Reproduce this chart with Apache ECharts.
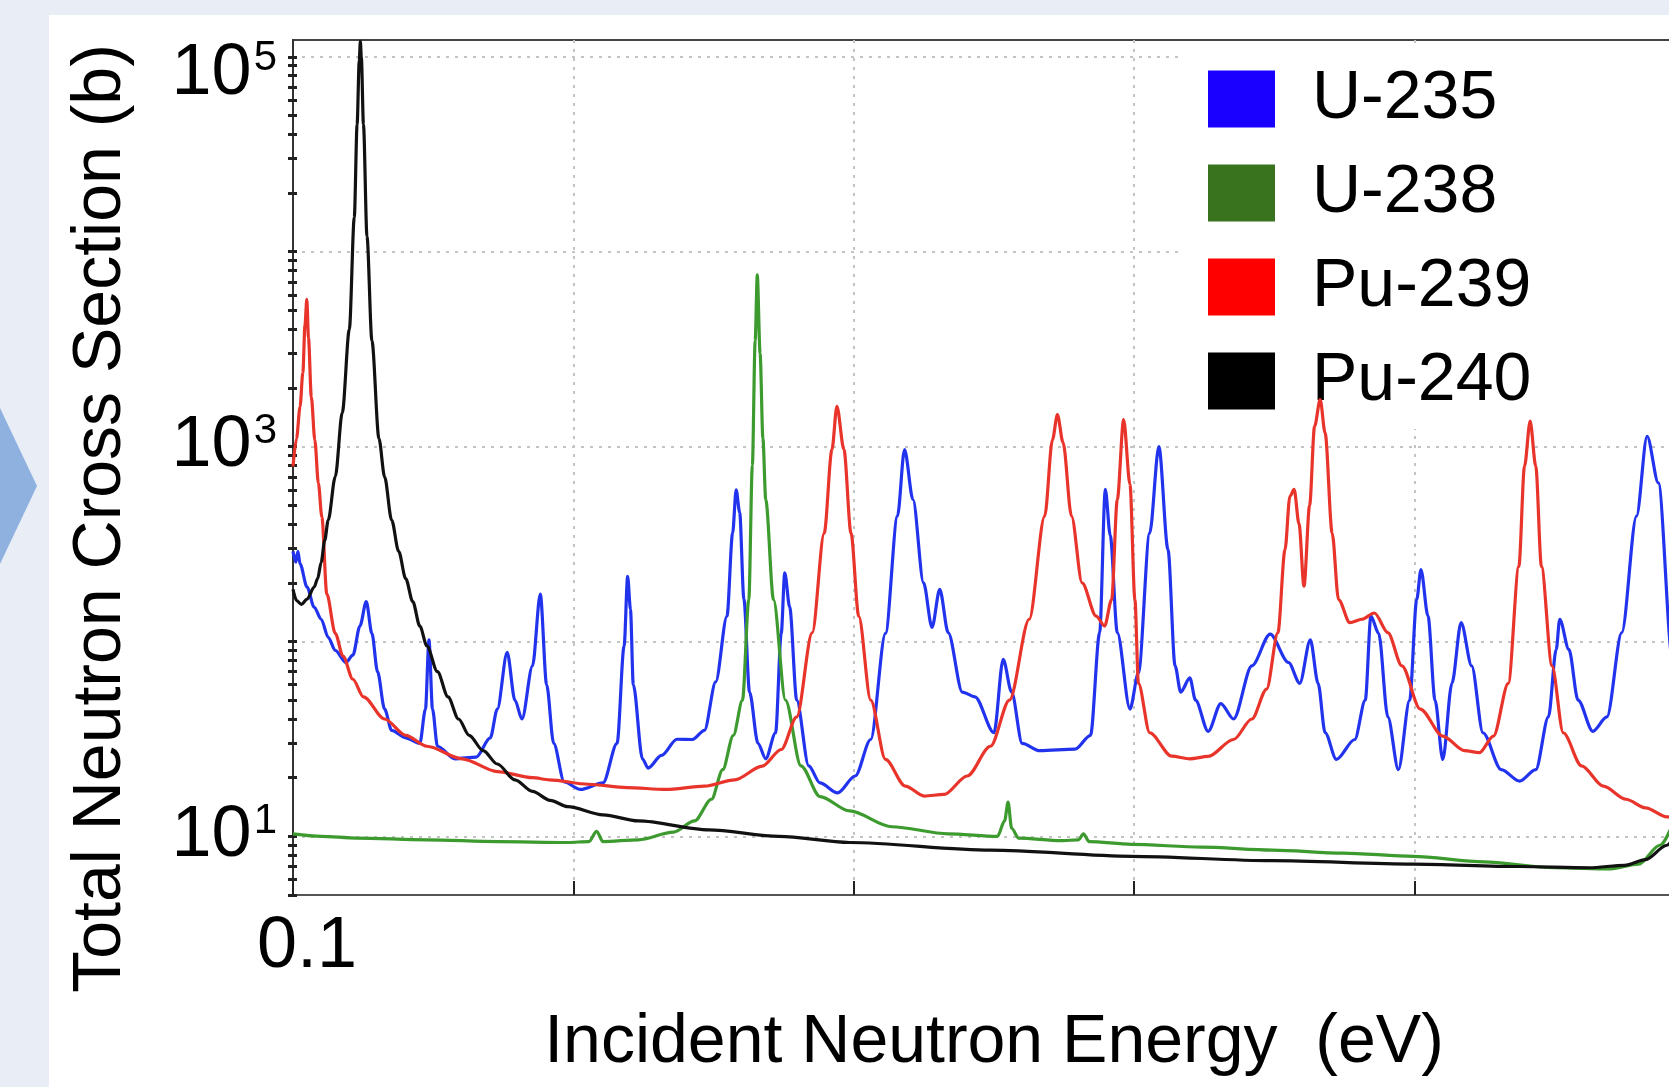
<!DOCTYPE html>
<html>
<head>
<meta charset="utf-8">
<title>Total Neutron Cross Section</title>
<script src="https://cdn.jsdelivr.net/npm/echarts@6/dist/echarts.min.js"></script>
<style>
html, body { margin: 0; padding: 0; overflow: hidden; background: #e9eef6; }
#chart { width: 1760px; height: 1087px; }
</style>
</head>
<body>
<div id="chart"></div>
<script>
const FONT = '"Liberation Sans", Arial, Helvetica, sans-serif'

// energy (eV) / total cross section (b)
const u235E = [0.1, 0.14, 0.17, 0.2, 0.3, 0.4, 0.5, 0.6, 0.7, 0.85, 0.95, 1.05, 1.14, 1.22, 1.3, 1.4, 1.5, 1.7, 1.9, 1.98, 2.03, 2.08, 2.15, 2.4, 2.7, 2.9, 3.0, 3.14, 3.25, 3.35, 3.5, 3.61, 3.7, 3.8, 3.95, 4.18, 4.5, 4.7, 4.8, 4.85, 4.89, 4.93, 5.06, 5.14, 5.33, 5.55, 5.77, 5.94, 6.1, 6.26, 6.34, 6.39, 6.44, 6.5, 6.58, 6.7, 6.81, 6.95, 7.03, 7.08, 7.15, 7.25, 7.42, 7.58, 7.83, 8.08, 8.3, 8.51, 8.68, 8.78, 8.9, 9.05, 9.17, 9.28, 9.4, 9.6, 9.78, 10.05, 10.18, 10.3, 10.45, 10.7, 11.2, 11.42, 11.55, 11.63, 11.7, 11.8, 11.98, 12.1, 12.26, 12.39, 12.52, 12.62, 12.7, 12.83, 12.91, 13.09, 13.27, 13.45, 13.71, 13.97, 14.23, 14.39, 14.54, 14.65, 14.75, 14.91, 15.17, 15.32, 15.4, 15.51, 15.64, 15.79, 15.95, 16.05, 16.11, 16.21, 16.31, 16.42, 16.55, 16.68, 16.83, 16.99, 17.25, 17.51, 17.74, 17.92, 18.03, 18.08, 18.21, 18.34, 18.55, 18.75, 18.96, 19.17, 19.32, 19.48, 19.68, 19.85, 20]
const u235S = [290, 255, 290, 250, 190, 150, 130, 105, 90, 78, 85, 120, 160, 110, 70, 45, 35, 32, 30, 45, 102, 45, 29, 25, 25.5, 32, 45, 88, 50, 40, 75, 175, 60, 30, 19, 17.4, 18.8, 30, 95, 216, 146, 60, 25, 22.4, 26, 31.5, 31.4, 35, 62, 135, 360, 600, 460, 165, 55, 30, 25, 34, 110, 225, 150, 50, 23, 18.8, 16.7, 20.4, 31.4, 110, 440, 966, 535, 200, 118, 185, 111, 55, 52, 34, 81, 55, 30, 27.5, 28, 33, 111, 603, 350, 111, 45, 69, 360, 1000, 296, 75, 55, 65, 50, 34.6, 48, 40, 75, 109, 78, 61, 102, 61, 34, 24.8, 31.4, 50, 135, 110, 41, 22, 50, 164, 234, 135, 50, 24.8, 61, 125, 75, 34, 22, 19.2, 22, 41, 91, 130, 91, 50, 34.6, 41, 111, 440, 1130, 651, 81, 35, 30]

const u238E = [0.1, 0.5, 1.0, 2.0, 3.0, 4.0, 4.3, 4.41, 4.5, 5.0, 5.5, 5.8, 6.04, 6.2, 6.35, 6.48, 6.57, 6.62, 6.66, 6.69, 6.73, 6.77, 6.81, 6.92, 7.09, 7.31, 7.58, 8.0, 8.6, 9.4, 10.1, 10.2, 10.25, 10.3, 10.4, 11.0, 11.25, 11.32, 11.4, 12, 13, 14, 15, 16, 17, 18, 18.8, 19.2, 19.5, 19.8, 20]
const u238S = [10.3, 10.0, 9.8, 9.6, 9.4, 9.3, 9.4, 10.6, 9.4, 9.6, 10.5, 12, 15.5, 22, 33, 50, 164, 800, 3500, 7600, 3000, 1100, 535, 164, 50, 23, 16, 13.5, 11.2, 10.3, 10.0, 12, 15, 11, 9.8, 9.5, 9.6, 10.3, 9.4, 9.1, 8.8, 8.5, 8.2, 7.9, 7.4, 6.9, 6.8, 7.2, 9, 13, 18]

const pu239E = [0.1, 0.15, 0.2, 0.24, 0.27, 0.296, 0.32, 0.36, 0.41, 0.46, 0.51, 0.58, 0.7, 0.81, 0.95, 1.1, 1.4, 1.7, 2.0, 2.5, 3.0, 3.5, 3.74, 4.29, 4.84, 5.39, 5.94, 6.37, 6.76, 7.03, 7.25, 7.47, 7.64, 7.75, 7.82, 7.92, 8.02, 8.13, 8.3, 8.51, 8.79, 9.06, 9.34, 9.67, 10.0, 10.27, 10.55, 10.77, 10.88, 10.95, 11.03, 11.15, 11.3, 11.5, 11.62, 11.72, 11.8, 11.89, 11.98, 12.05, 12.1, 12.26, 12.57, 12.83, 13.09, 13.45, 13.71, 13.92, 14.08, 14.18, 14.25, 14.31, 14.38, 14.45, 14.53, 14.6, 14.68, 14.75, 14.85, 14.94, 15.1, 15.27, 15.45, 15.64, 15.84, 16.1, 16.42, 16.73, 16.94, 17.14, 17.35, 17.5, 17.58, 17.66, 17.74, 17.82, 17.97, 18.13, 18.39, 18.7, 19.02, 19.3, 19.6, 20]
const pu239S = [790, 1100, 1600, 2400, 4200, 5700, 3600, 1800, 1080, 650, 435, 175, 110, 84, 64, 52, 40, 33, 29, 25, 21.5, 20, 19.5, 18.5, 17.8, 17.4, 18.1, 19.5, 22.9, 27.9, 41, 111, 360, 966, 1610, 966, 360, 135, 50, 24.8, 18.1, 16.1, 16.4, 20.4, 29, 50, 130, 440, 1086, 1460, 1050, 440, 200, 135, 120, 164, 535, 1375, 640, 164, 61, 34, 25.8, 25, 25.7, 31.4, 40, 57, 111, 295, 556, 603, 400, 192, 500, 1270, 1740, 1175, 360, 164, 125, 130, 140, 111, 75, 45, 32.7, 27.5, 26.9, 32.7, 61, 243, 792, 1350, 792, 243, 75, 34, 23, 18.1, 15.5, 14, 12.6, 12]

const pu240E = [0.1, 0.15, 0.22, 0.3, 0.4, 0.45, 0.5, 0.55, 0.6, 0.7, 0.8, 0.9, 0.97, 1.01, 1.04, 1.056, 1.07, 1.1, 1.15, 1.22, 1.32, 1.4, 1.5, 1.6, 1.7, 1.8, 1.9, 2.0, 2.15, 2.3, 2.45, 2.6, 2.8, 3.0, 3.25, 3.5, 3.75, 4.0, 4.5, 5.0, 6.0, 7.0, 8.0, 10, 12, 14, 16, 17.5, 18.5, 19.0, 19.3, 19.6, 19.8, 20]
const pu240S = [185, 162, 155, 165, 190, 210, 255, 330, 420, 700, 1500, 4000, 15000, 45000, 95000, 120000, 100000, 45000, 12000, 3500, 1100, 700, 420, 290, 210, 160, 120, 95, 70, 52, 40, 33, 27.5, 23.5, 19.5, 17, 15.3, 14.2, 12.9, 12, 10.8, 10, 9.3, 8.5, 7.9, 7.5, 7.2, 7.0, 6.9, 7.1, 7.6, 9, 11, 14]

const seriesNames = ['U-235', 'U-238', 'Pu-239', 'Pu-240']
const lineColors = ['#2233ee', '#3c9a2e', '#e8342a', '#111111']
const legendColors = ['#1a00ff', '#3a731e', '#ff0000', '#000000']

const xTicks = [0.1, 4.08, 8.06, 12.04, 16.02, 20]
const xLabels = [0.1, 20]
const yLabels = [10, 1000, 100000]

// log minor ticks 2..9 inside every decade
const yTicks = []
;[1, 10, 100, 1000, 10000, 100000].forEach(d => {
 for (let k = 1; k <= 9; k++) {
  const v = k * d
  if (v >= 5 && v <= 122000) yTicks.push(v)
 }
})

const pairs = (xs, ys) => xs.map((x, i) => [x, ys[i]])
const curves = [pairs(u235E, u235S), pairs(u238E, u238S), pairs(pu239E, pu239S), pairs(pu240E, pu240S)]

const yMin = 5
const yMax = 122000
const gridLine = { color: '#c4c4c4', width: 2, type: [3, 6] }
const digit = { fontFamily: FONT, color: '#000' }

const chart = echarts.init(document.getElementById('chart'))
chart.setOption({
 animation: false,
 backgroundColor: '#e9eef6',
 textStyle: { fontFamily: FONT },
 graphic: [
  { type: 'rect', z: -10, silent: true, shape: { x: 49, y: 15, width: 1800, height: 1200 }, style: { fill: '#ffffff' } },
  { type: 'polygon', z: -10, silent: true, shape: { points: [[0, 408], [37, 486], [0, 564]] }, style: { fill: '#8fb1e0' } }
 ],
 grid: {
  left: 293,
  top: 40,
  width: 1402,
  height: 855,
  outerBoundsMode: 'none',
  containLabel: false,
  show: true,
  borderColor: '#444',
  borderWidth: 2,
  backgroundColor: 'transparent'
 },
 legend: {
  data: seriesNames.map((n, i) => ({ name: n, itemStyle: { color: legendColors[i] } })),
  orient: 'vertical',
  left: 1183,
  top: 45,
  padding: [20, 200, 14, 25],
  backgroundColor: '#ffffff',
  icon: 'rect',
  itemWidth: 67,
  itemHeight: 57,
  itemGap: 26,
  textStyle: { fontSize: 68, fontFamily: FONT, color: '#000', lineHeight: 57, padding: [0, 0, 0, 32] }
 },
 xAxis: {
  type: 'value',
  min: 0.1,
  max: 20,
  name: 'Incident Neutron Energy  (eV)',
  nameLocation: 'middle',
  nameGap: 114,
  nameTextStyle: { fontSize: 68, fontFamily: FONT, color: '#000', lineHeight: 68 },
  axisLine: { show: true, lineStyle: { color: '#555', width: 2 } },
  axisTick: { show: true, inside: true, length: 14, customValues: xTicks, lineStyle: { color: '#222', width: 2 } },
  axisLabel: {
   customValues: xLabels,
   fontSize: 72,
   fontFamily: FONT,
   color: '#000',
   margin: 16,
   padding: [0, 0, 0, 28],
   formatter: v => (v < 1 ? '0.1' : String(Math.round(v)))
  },
  splitLine: { show: true, showMinLine: false, showMaxLine: false, lineStyle: gridLine }
 },
 yAxis: [
  {
   type: 'log',
   logBase: 10,
   min: yMin,
   max: yMax,
   position: 'left',
   name: 'Total Neutron Cross Section (b)',
   nameLocation: 'middle',
   nameGap: 158,
   nameTextStyle: { fontSize: 68, fontFamily: FONT, color: '#000', lineHeight: 68, padding: [0, 102, 0, 0] },
   axisLine: { show: true, lineStyle: { color: '#333', width: 2 } },
   axisTick: { show: true, length: 5, customValues: yTicks, lineStyle: { color: '#222', width: 3 } },
   axisLabel: {
    customValues: yLabels,
    margin: 16,
    formatter: v => {
     const n = Math.round(Math.log10(v))
     const txt = '{b|10}{s|' + n + '}'
     // the top label sits a little below its grid line
     return n === 5 ? '{gap| }\n' + txt : txt
    },
    rich: {
     gap: { fontSize: 10, lineHeight: 34 },
     b: Object.assign({ fontSize: 72, lineHeight: 72 }, digit),
     s: Object.assign({ fontSize: 42, lineHeight: 42, verticalAlign: 'top', padding: [0, 0, 0, 2] }, digit)
    }
   },
   splitLine: { show: false }
  },
  {
   type: 'log',
   logBase: 10,
   min: yMin,
   max: yMax,
   position: 'left',
   axisLine: { show: false },
   axisTick: { show: true, inside: true, length: 4, customValues: yTicks, lineStyle: { color: '#222', width: 3 } },
   axisLabel: { show: false },
   splitLine: { show: false }
  },
  {
   type: 'log',
   logBase: 10,
   min: yMin,
   max: yMax,
   position: 'left',
   axisLine: { show: false },
   axisTick: { show: false },
   axisLabel: { show: false },
   splitLine: { show: true, showMinLine: false, showMaxLine: false, lineStyle: gridLine }
  }
 ],
 series: curves.map((d, i) => ({
  name: seriesNames[i],
  type: 'line',
  yAxisIndex: 0,
  data: d,
  showSymbol: false,
  symbol: 'none',
  smooth: 0.3,
  smoothMonotone: 'x',
  silent: true,
  z: 3 + i,
  itemStyle: { color: lineColors[i] },
  lineStyle: { color: lineColors[i], width: 3.2 }
 }))
})
</script>
</body>
</html>
